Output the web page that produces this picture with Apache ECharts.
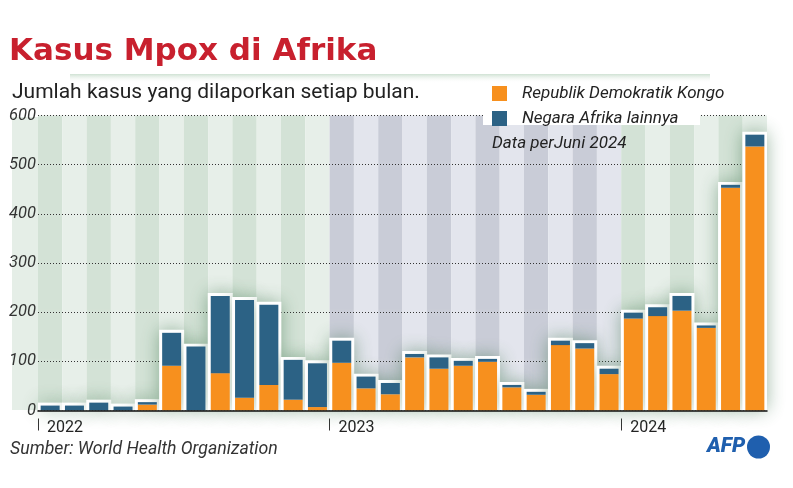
<!DOCTYPE html>
<html><head><meta charset="utf-8">
<script src="https://cdn.jsdelivr.net/npm/echarts@6/dist/echarts.min.js"></script>
<style>html,body{margin:0;padding:0;background:#fff}#c{width:793px;height:488px}</style>
</head><body><div id="c"></div>
<script>
// ---- data ----
const categories = [
  '2022-01','2022-02','2022-03','2022-04','2022-05','2022-06','2022-07','2022-08','2022-09','2022-10','2022-11','2022-12',
  '2023-01','2023-02','2023-03','2023-04','2023-05','2023-06','2023-07','2023-08','2023-09','2023-10','2023-11','2023-12',
  '2024-01','2024-02','2024-03','2024-04','2024-05','2024-06'
];
const drcCases   = [0,0,0,0,12,91,0,76,26,52,22,7,97,45,33,108,85,91,99,47,32,133,126,74,187,192,203,168,453,537];
const otherCases = [10,10,16,8,5,67,130,157,199,163,81,89,45,24,23,7,23,10,6,5,6,9,11,11,12,18,30,5,6,24];
const yearLabels = ['2022','2023','2024'];
const yMax = 600, yStep = 100;
const seriesNames = ['Republik Demokratik Kongo','Negara Afrika lainnya'];

// ---- derived ----
const totals = drcCases.map((v,i)=>v+otherCases[i]);
const haloPad = 6; // white outline above each bar, in value units
const haloData = totals.map(v=>v+haloPad);
// month boundaries (start of each month + end) used for the year ticks/labels
const boundaries = categories.concat(['end']);
const FONT = 'Roboto';
const stripeColors = {
  '2022':['#d3e2d6','#e7efe9'],
  '2023':['#c9ccd7','#e3e5ed'],
  '2024':['#d3e2d6','#e7efe9']
};
const bgData = categories.map((c,i)=>({
  value: yMax,
  itemStyle:{color: stripeColors[c.slice(0,4)][i%2]}
}));
const isYearStart = (i)=> i < categories.length && categories[i].slice(5)==='01';

const chart = echarts.init(document.getElementById('c'), null, {renderer:'canvas'});
const xBase = {type:'category', data:categories, gridIndex:0};
chart.setOption({
  animation:false,
  backgroundColor:'#fff',
  grid:{left:38, right:26, top:115.5, bottom:77.5},
  xAxis:[
    Object.assign({}, xBase, {z:5, axisLine:{show:true, lineStyle:{color:'#111', width:1.5}}, axisTick:{show:false}, axisLabel:{show:false}}),
    Object.assign({}, xBase, {show:false}),
    Object.assign({}, xBase, {show:false}),
    {type:'category', data:boundaries, boundaryGap:false, position:'bottom', offset:8, axisLine:{show:false},
      axisTick:{show:true, length:12, interval:(i)=>isYearStart(i), lineStyle:{color:'#333', width:1}},
      axisLabel:{show:true, interval:(i)=>isYearStart(i), align:'left', margin:1,
        formatter:(v)=>v.slice(5)==='01'? '{y|'+yearLabels[yearLabels.indexOf(v.slice(0,4))]+'}' : '',
        rich:{y:{fontFamily:FONT, fontSize:16, color:'#222', padding:[0,0,0,9]}}}}
  ],
  yAxis:{type:'value', min:0, max:yMax, interval:yStep, z:1,
    axisLine:{show:false}, axisTick:{show:false},
    axisLabel:{fontFamily:FONT, fontStyle:'italic', fontSize:16.5, color:'#333', margin:2},
    splitLine:{show:true, lineStyle:{color:'#333', type:[1,2], width:1, shadowColor:'rgba(255,255,255,0.9)', shadowBlur:4}}
  },
  legend:{
    data:seriesNames, orient:'vertical', left:484, top:82, itemWidth:15, itemHeight:15, itemGap:8,
    icon:'rect', padding:[3,8,0,8], z:6,
    textStyle:{fontFamily:FONT, fontStyle:'italic', fontSize:17, color:'#222', padding:[0,0,0,10]},
    selectedMode:false
  },
  series:[
    {type:'bar', name:'bg', xAxisIndex:1, data:bgData, barWidth:'100%', z:0.5, silent:true},
    {type:'bar', name:'halo', xAxisIndex:2, data:haloData, barWidth:25, z:2, silent:true,
      itemStyle:{color:'#fff', shadowBlur:18, shadowColor:'rgba(40,100,55,0.45)'}},
    {type:'bar', name:seriesNames[0], stack:'c', xAxisIndex:0, data:drcCases, barWidth:19, z:3,
      itemStyle:{color:'#f7901e'}},
    {type:'bar', name:seriesNames[1], stack:'c', xAxisIndex:0, data:otherCases, barWidth:19, z:3,
      itemStyle:{color:'#2c6285'}}
  ],
  graphic:[
    {type:'rect', z:-10, shape:{x:12,y:117,width:26,height:293}, style:{fill:'#e5eee7'}},
    {type:'rect', z:4, shape:{x:483,y:106,width:217,height:19}, style:{fill:'#fff'}},
    {type:'rect', z:-10, shape:{x:70,y:74,width:640,height:9},
      style:{fill:new echarts.graphic.LinearGradient(0,0,0,1,[{offset:0,color:'rgba(150,190,158,0.45)'},{offset:1,color:'rgba(255,255,255,0)'}])}},
    {type:'text', z:10, left:9, top:36, style:{text:'Kasus Mpox di Afrika', font:'bold 31px "DejaVu Sans"', fill:'#c8202e'}},
    {type:'text', z:10, left:12, top:82, style:{text:'Jumlah kasus yang dilaporkan setiap bulan.', font:'21px Roboto', fill:'#222'}},
    {type:'text', z:10, left:492, top:135, style:{text:'Data perJuni 2024', font:'italic 17px Roboto', fill:'#222'}},
    {type:'text', z:10, left:10, top:441, style:{text:'Sumber: World Health Organization', font:'italic 17.7px Roboto', fill:'#333'}},
    {type:'text', z:10, left:707, top:436, style:{text:'AFP', font:'italic 900 21px Roboto', fill:'#1f5fae'}},
    {type:'circle', z:10, shape:{cx:758.5, cy:447, r:11.5}, style:{fill:'#1f5fae'}}
  ]
});
</script></body></html>
